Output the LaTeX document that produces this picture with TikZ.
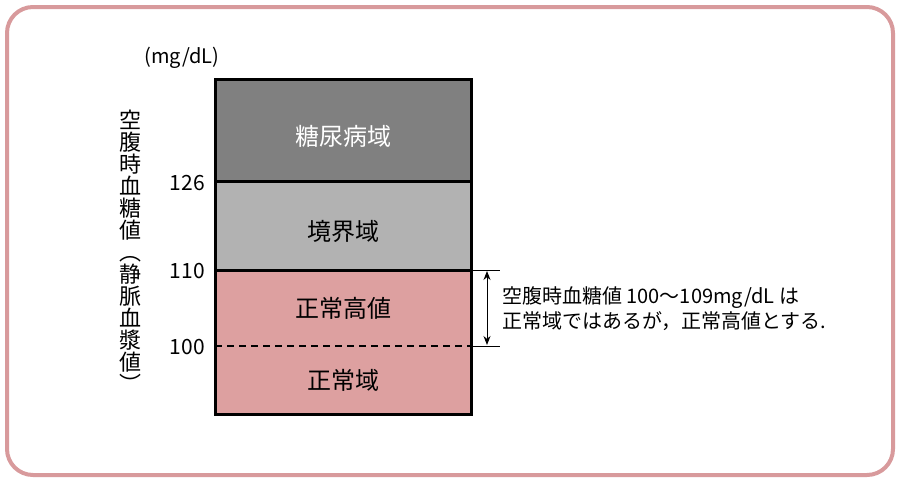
\documentclass[tikz,border=0pt]{standalone}
\usepackage{fontspec}
\setmainfont{Noto Sans CJK JP}
\usetikzlibrary{positioning,arrows.meta}
\definecolor{framepink}{RGB}{216,154,156}
\definecolor{diabgray}{RGB}{128,128,128}
\definecolor{bordergray}{RGB}{178,178,178}
\definecolor{normalpink}{RGB}{221,160,160}

\begin{document}
\begin{tikzpicture}[x=1pt, y=-1pt, node distance=0pt,
    band/.style={rectangle, inner sep=0pt, outer sep=0pt, minimum width=256pt, font=\fontsize{24}{24}\selectfont},
    tick/.style={anchor=east, inner sep=0pt, font=\fontsize{21}{21}\selectfont}]
    \useasboundingbox (0,0) rectangle (900,482);
    % Frame
    \draw[framepink, line width=4pt, rounded corners=26pt] (7,7) rectangle (893,475);

    % Bands
    \node[band, fill=diabgray, minimum height=102pt, text height=33pt, anchor=north west, text=white] (diab) at (215,79) {糖尿病域};
    \node[band, fill=bordergray, minimum height=89pt, text height=32pt, below=of diab] (border) {境界域};
    \node[band, fill=normalpink, minimum height=76pt, below=of border] (high) {正常高値};
    \node[band, fill=normalpink, minimum height=68pt, below=of high] (normal) {正常域};

    % Outline and borders
    \draw[line width=3pt] (diab.north west) rectangle (normal.south east);
    \draw[line width=3pt] (diab.south west) -- (diab.south east);
    \draw[line width=3pt] (border.south west) -- (border.south east);
    \draw[line width=2.5pt, dash pattern=on 7pt off 5pt] (high.south west) -- (high.south east);

    % Axis labels
    \node[inner sep=0pt, font=\fontsize{20}{20}\selectfont] (unit) at (182,58) {(mg/dL)};
    \node[tick] (v126) at (205,183) {126};
    \node[tick] (v110) at (205,271) {110};
    \node[tick] (v100) at (205,347) {100};
    \node[inner sep=0pt, align=center, font=\fontsize{22}{22}\selectfont] (axis) at (130,251)
        {空\\腹\\時\\血\\糖\\値\\︵\\静\\脈\\血\\漿\\値\\︶};

    % Range arrow
    \coordinate (hightop) at (500,270);
    \coordinate (highbot) at (500,346);
    \draw[line width=1pt] (high.north east) -- (hightop);
    \draw[line width=1pt] (high.south east) -- (highbot);
    \coordinate (arrtop) at (487,271);
    \coordinate (arrbot) at (487,345);
    \draw[{Stealth[length=9pt,width=7pt]}-{Stealth[length=9pt,width=7pt]}, line width=1pt] (arrtop) -- (arrbot);
    \node[anchor=west, align=left, inner sep=0pt, font=\fontsize{20}{25}\selectfont] (note) at (502,309)
        {空腹時血糖値 100〜109mg/dL は\\正常域ではあるが，正常高値とする.};
\end{tikzpicture}
\end{document}
